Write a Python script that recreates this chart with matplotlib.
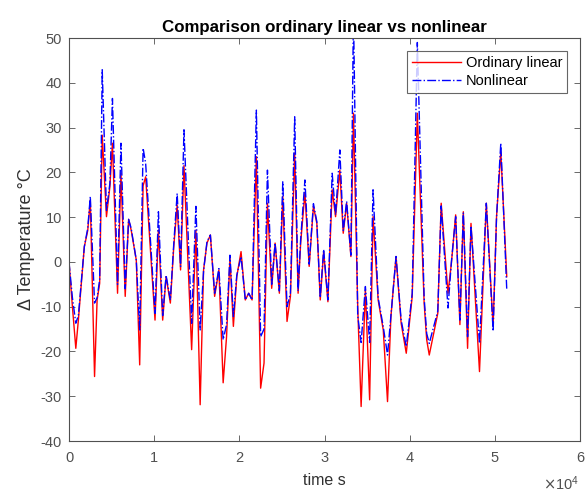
import matplotlib
matplotlib.use("Agg")
import matplotlib.pyplot as plt
import numpy as np

# time in units of 1e4 s
time_1e4 = [0.00, 0.04, 0.08, 0.11, 0.18, 0.22, 0.25, 0.30, 0.33, 0.36,
            0.39, 0.44, 0.48, 0.51, 0.57, 0.61, 0.66, 0.70, 0.73, 0.79,
            0.83, 0.87, 0.90, 1.01, 1.05, 1.10, 1.14, 1.19, 1.23, 1.27,
            1.31, 1.35, 1.44, 1.49, 1.54, 1.58, 1.62, 1.66, 1.71, 1.76,
            1.81, 1.85, 1.89, 1.93, 1.97, 2.02, 2.07, 2.11, 2.15, 2.20,
            2.25, 2.29, 2.33, 2.38, 2.42, 2.47, 2.51, 2.56, 2.60, 2.65,
            2.69, 2.72, 2.77, 2.82, 2.87, 2.91, 2.95, 2.99, 3.04, 3.09,
            3.13, 3.18, 3.22, 3.26, 3.31, 3.34, 3.39, 3.43, 3.48, 3.53,
            3.57, 3.63, 3.69, 3.74, 3.78, 3.84, 3.90, 3.96, 4.03, 4.09,
            4.17, 4.20, 4.23, 4.33, 4.37, 4.45, 4.49, 4.54, 4.59, 4.63,
            4.68, 4.72, 4.82, 4.90, 4.98, 5.02, 5.07, 5.14]

ordinary_linear = [0.0, -10.0, -19.3, -13.0, 3.4, 7.0, 13.8, -25.6, -8.5, -4.8,
                   28.3, 10.1, 16.8, 26.5, -7.0, 19.8, -7.7, 9.5, 7.1, 0.4,
                   -23.0, 17.0, 19.0, -13.0, 7.1, -13.0, -3.3, -9.2, 3.4, 12.7,
                   -1.8, 21.5, -19.6, 7.1, -31.9, -1.8, 4.2, 6.0, -7.7, -1.8,
                   -27.0, -16.7, 0.8, -14.4, -3.3, 2.3, -8.5, -7.0, -8.5, 23.5,
                   -28.2, -22.6, 13.1, -5.9, 4.2, -7.0, 14.6, -13.3, -7.7, 24.3,
                   -7.0, 4.2, 15.5, -1.0, 12.4, 8.6, -8.5, 2.3, -8.9, 16.1,
                   10.1, 20.5, 6.4, 13.1, 1.2, 33.2, -10.0, -32.3, -6.2, -30.8,
                   10.1, -8.5, -15.2, -31.2, -12.2, 1.2, -13.7, -20.4, -7.7, 33.2,
                   -9.2, -17.4, -20.8, -11.5, 13.1, -7.0, -0.3, 10.5, -14.0, 11.2,
                   -19.3, 8.6, -24.5, 13.1, -14.4, 10.1, 24.6, -3.3]

nonlinear = [0.0, -8.0, -13.7, -12.0, 3.4, 7.5, 14.6, -9.2, -8.0, -4.0,
             42.9, 11.5, 17.5, 36.5, -5.0, 26.5, -6.0, 9.5, 7.5, 0.4,
             -15.2, 25.4, 22.0, -11.5, 11.2, -12.0, -3.0, -8.5, 4.0, 15.3,
             -1.0, 29.5, -13.7, 12.4, -15.2, -2.0, 4.5, 6.0, -7.0, -1.5,
             -17.4, -14.0, 1.5, -12.2, -3.0, 1.2, -8.5, -7.0, -8.5, 33.9,
             -16.7, -15.0, 20.5, -5.0, 4.2, -6.5, 17.9, -10.0, -7.0, 32.4,
             -6.5, 5.0, 18.3, -0.5, 13.0, 9.0, -8.0, 2.8, -8.5, 19.8,
             10.5, 25.0, 7.0, 13.5, 1.5, 56.0, -12.0, -18.0, -5.5, -18.0,
             16.1, -8.0, -14.5, -20.8, -12.0, 1.2, -13.0, -18.9, -7.0, 49.0,
             -8.0, -16.0, -18.2, -11.0, 12.5, -10.3, 0.0, 10.1, -13.0, 11.0,
             -16.7, 8.0, -18.2, 13.1, -15.5, 10.0, 26.5, -6.2]

x_ticks = [0, 1, 2, 3, 4, 5, 6]
y_ticks = [-40, -30, -20, -10, 0, 10, 20, 30, 40, 50]

plt.rcParams['font.family'] = ['Liberation Sans', 'DejaVu Sans']
plt.rcParams['axes.unicode_minus'] = False

t = np.array(time_1e4) * 1e4

fig = plt.figure(figsize=(5.87, 4.94), dpi=100)
ax = fig.add_axes([69/587, 53/494, 511/587, 403/494])

ax.plot(t, ordinary_linear, color='#ff0000', lw=1.0, ls='-', label='Ordinary linear')
ax.plot(t, nonlinear, color='#0000ff', lw=1.0, ls='-.', label='Nonlinear')

ax.set_xlim(0, 6e4)
ax.set_ylim(-40, 50)
ax.set_xticks([v * 1e4 for v in x_ticks])
ax.set_xticklabels([str(v) for v in x_ticks])
ax.set_yticks(y_ticks)

ax.tick_params(direction='in', top=True, right=True, length=4, width=0.6,
               colors='#505050', labelsize=10.5, labelcolor='#505050')
ax.tick_params(axis='x', pad=7)
ax.tick_params(axis='y', pad=5)
for s in ax.spines.values():
    s.set_color('#505050')
    s.set_linewidth(0.8)

# exponent label (x10^4) at bottom right, as in the reference
fig.text(579/587, 1 - 490/494, r'$\times\mathregular{10^{4}}$', ha='right', va='baseline',
         fontsize=10.5, color='#505050')

ax.set_title('Comparison ordinary linear vs nonlinear', fontsize=12.2, fontweight='bold', pad=4)
ax.set_xlabel('time s', fontsize=11.5, color='#303030', labelpad=6)
ax.set_ylabel('Δ Temperature °C', fontsize=13, color='#303030', labelpad=4)

leg = ax.legend(loc='upper right', bbox_to_anchor=(0.975, 0.968), fontsize=10.5,
                frameon=True, fancybox=False, edgecolor='#404040',
                handlelength=3.4, handletextpad=0.3, borderpad=0.35,
                labelspacing=0.25, borderaxespad=0)
leg.get_frame().set_linewidth(0.8)

fig.savefig('out.png', dpi=100)
